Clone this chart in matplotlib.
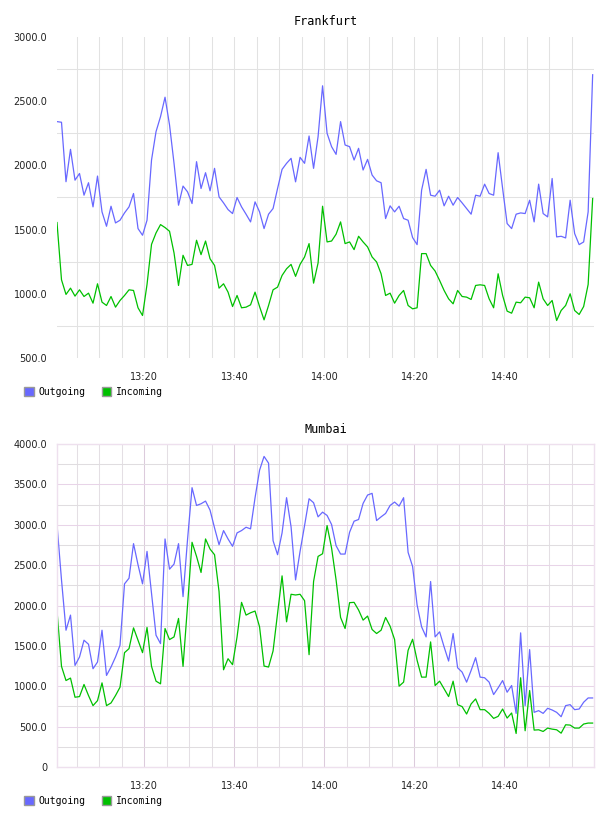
import numpy as np
import pandas as pd
import matplotlib
matplotlib.use("Agg")
import matplotlib.pyplot as plt
import matplotlib.dates as mdates
from matplotlib.patches import Patch

# one sample per minute, 13:00 -> 15:00
times = pd.date_range("2024-01-01 13:00:36", periods=120, freq="min")

fra_out = [2341, 2336, 1873, 2125, 1885, 1937, 1768, 1865, 1677, 1917,
           1638, 1526, 1682, 1552, 1573, 1630, 1677, 1781, 1508, 1456,
           1573, 2042, 2263, 2380, 2531, 2315, 2016, 1690, 1839, 1794,
           1703, 2029, 1820, 1943, 1802, 1977, 1755, 1708, 1656, 1625,
           1750, 1677, 1620, 1560, 1716, 1638, 1508, 1620, 1664, 1820,
           1969, 2016, 2055, 1872, 2063, 2016, 2229, 1977, 2224, 2620,
           2250, 2146, 2086, 2341, 2159, 2146, 2042, 2133, 1964, 2047,
           1925, 1880, 1865, 1586, 1685, 1638, 1682, 1586, 1573, 1438,
           1383, 1807, 1969, 1768, 1760, 1807, 1685, 1760, 1690, 1750,
           1708, 1664, 1620, 1768, 1760, 1854, 1781, 1768, 2099, 1820,
           1547, 1508, 1620, 1630, 1625, 1729, 1560, 1854, 1625, 1599,
           1898, 1443, 1448, 1435, 1729, 1469, 1383, 1404, 1638, 2706]
fra_in = [1555, 1109, 995, 1044, 982, 1031, 979, 1005, 927, 1078,
          935, 909, 979, 896, 948, 987, 1031, 1026, 891, 831,
          1073, 1385, 1474, 1539, 1516, 1487, 1318, 1065, 1300, 1221,
          1229, 1417, 1305, 1411, 1273, 1221, 1044, 1078, 1013, 901,
          987, 891, 896, 914, 1013, 901, 797, 909, 1031, 1052,
          1143, 1195, 1229, 1136, 1229, 1287, 1391, 1083, 1240, 1682,
          1404, 1411, 1464, 1560, 1391, 1404, 1344, 1448, 1404, 1365,
          1287, 1248, 1156, 987, 1005, 927, 987, 1026, 909, 883,
          891, 1313, 1313, 1221, 1177, 1104, 1026, 961, 922, 1026,
          979, 974, 956, 1065, 1070, 1065, 961, 891, 1156, 987,
          865, 849, 935, 930, 974, 969, 891, 1091, 961, 909,
          948, 792, 870, 909, 1000, 870, 839, 901, 1073, 1742]

mum_out = [3003, 2317, 1694, 1881, 1258, 1362, 1570, 1520, 1217, 1300,
           1694, 1134, 1238, 1362, 1508, 2268, 2338, 2766, 2504, 2268,
           2670, 2150, 1632, 1528, 2824, 2450, 2513, 2766, 2110, 2816,
           3459, 3239, 3260, 3293, 3181, 2961, 2753, 2928, 2824, 2733,
           2899, 2928, 2969, 2949, 3335, 3675, 3846, 3763, 2803, 2629,
           2899, 3335, 2974, 2317, 2670, 2990, 3322, 3273, 3098, 3156,
           3115, 3003, 2741, 2637, 2637, 2907, 3044, 3065, 3264, 3368,
           3389, 3052, 3098, 3140, 3239, 3281, 3231, 3335, 2658, 2483,
           2006, 1736, 1611, 2297, 1611, 1674, 1487, 1312, 1653, 1229,
           1175, 1051, 1196, 1354, 1113, 1105, 1051, 897, 980, 1071,
           926, 1009, 664, 1661, 760, 1454, 677, 698, 664, 727,
           706, 677, 623, 760, 772, 710, 718, 802, 855, 855]
mum_in = [1935, 1246, 1071, 1101, 864, 872, 1022, 885, 760, 822,
          1042, 760, 793, 885, 988, 1416, 1466, 1723, 1570, 1416,
          1728, 1246, 1063, 1030, 1715, 1578, 1611, 1840, 1246, 2000,
          2783, 2608, 2409, 2824, 2699, 2629, 2172, 1204, 1341, 1267,
          1611, 2039, 1881, 1910, 1931, 1736, 1250, 1238, 1437, 1902,
          2367, 1798, 2139, 2130, 2139, 2060, 1391, 2297, 2608, 2641,
          2990, 2712, 2317, 1852, 1715, 2035, 2039, 1944, 1819, 1869,
          1703, 1653, 1694, 1852, 1744, 1578, 1001, 1051, 1445, 1582,
          1321, 1113, 1113, 1549, 1009, 1063, 968, 872, 1063, 772,
          748, 656, 781, 843, 710, 710, 664, 602, 627, 718,
          606, 669, 415, 1105, 449, 947, 457, 461, 440, 482,
          469, 461, 419, 523, 519, 482, 482, 532, 544, 544]

blue = "#6868ff"
green = "#00c000"
mono = "DejaVu Sans Mono"

fig = plt.figure(figsize=(6.08, 8.16), dpi=100)
ax1 = fig.add_axes([57/608, 1 - 358/816, 537/608, 321/816])
ax2 = fig.add_axes([57/608, 1 - 767/816, 537/608, 323/816])

xmin = times[0]
xmax = times[-1] + pd.Timedelta(seconds=18)

for ax, title, out, inc, lo, hi, pad in [
        (ax1, "Frankfurt", fra_out, fra_in, 500, 3000, 8.6),
        (ax2, "Mumbai", mum_out, mum_in, 0, 4000, 7.9)]:
    ax.plot(times, out, color=blue, lw=0.9)
    ax.plot(times, inc, color=green, lw=0.9)
    ax.set_xlim(xmin, xmax)
    ax.set_ylim(lo, hi)
    ax.set_title(title, fontsize=8.5, family=mono, pad=pad)

    ax.xaxis.set_major_locator(mdates.MinuteLocator(byminute=[0, 20, 40]))
    ax.xaxis.set_minor_locator(mdates.MinuteLocator(byminute=range(0, 60, 5)))
    ax.xaxis.set_major_formatter(mdates.DateFormatter("%H:%M"))
    ax.set_yticks(np.arange(lo, hi + 1, 500))
    ax.set_yticks(np.arange(lo + 250, hi, 250 if lo == 0 else 500), minor=True)
    ax.set_yticklabels(["0" if v == 0 else "%.1f" % v for v in np.arange(lo, hi + 1, 500)])
    ax.tick_params(which="both", length=0, labelsize=7, colors="#222222")
    ax.tick_params(axis="y", pad=7)
    ax.tick_params(axis="x", pad=10)
    ax.set_axisbelow(True)
    ax.legend(handles=[Patch(facecolor=blue, edgecolor="#999999", label="Outgoing"),
                       Patch(facecolor=green, edgecolor="#999999", label="Incoming")],
              loc="center left", ncol=2, frameon=False, borderpad=0, borderaxespad=0,
              handlelength=1.0, handleheight=1.0, handletextpad=0.5, columnspacing=1.65,
              prop={"family": mono, "size": 7},
              bbox_to_anchor=(24/608, (1 - 392/816) if ax is ax1 else (1 - 801/816)),
              bbox_transform=fig.transFigure)

# Frankfurt: plain grey grid, no frame
for s in ax1.spines.values():
    s.set_visible(False)
ax1.grid(True, axis="x", which="both", color="#e2e2e2", lw=0.75)
ax1.grid(True, axis="y", which="minor", color="#e2e2e2", lw=0.75)

# Mumbai: pinkish grid with frame
for s in ax2.spines.values():
    s.set_color("#eee0ee")
    s.set_linewidth(1.0)
ax2.grid(True, axis="x", which="major", color="#dccbdc", lw=0.75)
ax2.grid(True, axis="x", which="minor", color="#e4dfe4", lw=0.75)
ax2.grid(True, axis="y", which="major", color="#e8d4e8", lw=0.75)
ax2.grid(True, axis="y", which="minor", color="#e0dde0", lw=0.75)

fig.savefig("out.png", dpi=100)
